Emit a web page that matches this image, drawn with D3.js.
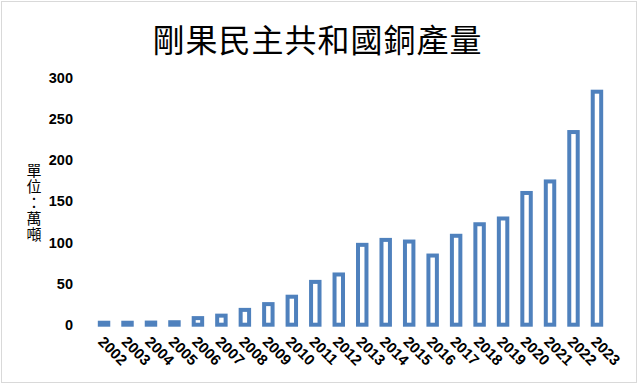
<!DOCTYPE html>
<html><head><meta charset="utf-8">
<script src="https://cdn.jsdelivr.net/npm/d3@7"></script>
<style>html,body{margin:0;padding:0;background:#fff;}svg{display:block;}</style>
</head><body>
<svg id="chart" width="640" height="386"></svg>
<script>
const title = "剛果民主共和國銅產量";
const yTitle = "單位：萬噸";
const years = ["2002","2003","2004","2005","2006","2007","2008","2009","2010","2011","2012","2013","2014","2015","2016","2017","2018","2019","2020","2021","2022","2023"];
const production = [2.4,2.4,2.6,3,8,11,18,25,34,52,61,97,103,101,84,108,122,129,160,174,234,283];
const yTicks = [0,50,100,150,200,250,300];

const svg = d3.select("#chart");
svg.append("rect").attr("x",1.5).attr("y",1.5).attr("width",635).attr("height",381)
  .attr("fill","#fff").attr("stroke","#d9d9d9").attr("stroke-width",1);

const x = d3.scaleBand().domain(years).range([92.3, 608.7]).padding(0);
const y = d3.scaleLinear().domain([0,300]).range([324.7, 77.7]);
const color = "#4f81bd";
const sw = 4;
const barW = x.bandwidth()*0.36;

svg.append("text").attr("x",317.5).attr("y",38).attr("text-anchor","middle")
  .attr("dominant-baseline","central")
  .attr("font-family","'Noto Sans CJK TC','Noto Sans CJK SC',sans-serif")
  .attr("font-size",32).attr("letter-spacing",1).attr("fill","#000").text(title);

// y tick labels
const yAxis = d3.axisLeft(y).tickValues(yTicks).tickSize(0).tickPadding(0);
const gy = svg.append("g").attr("transform","translate(73,0)").call(yAxis);
gy.select(".domain").remove();
gy.selectAll("text").attr("font-family","'Liberation Sans',Arial,sans-serif")
  .attr("font-size",14.5).attr("font-weight","bold").attr("fill","#000");

// y title, vertical
svg.append("text").attr("x",34).attr("y",163)
  .attr("writing-mode","tb")
  .attr("style","writing-mode: vertical-rl; text-orientation: upright;")
  .attr("font-family","'Noto Sans CJK TC',sans-serif").attr("font-size",15)
  .attr("letter-spacing",1)
  .attr("fill","#000").text(yTitle);

// bars
svg.append("g").selectAll("rect").data(years).join("rect")
  .attr("x",(d)=>x(d)+x.bandwidth()/2-barW/2)
  .attr("y",(d,i)=>y(production[i]))
  .attr("width",barW)
  .attr("height",(d,i)=>y(0)-y(production[i]))
  .attr("fill","#fff").attr("stroke",color).attr("stroke-width",sw);

// x labels
const xAxis = d3.axisBottom(x).tickSize(0).tickPadding(0);
const gx = svg.append("g").call(xAxis);
gx.select(".domain").remove();
gx.selectAll(".tick").attr("transform",d=>`translate(${x(d)+x.bandwidth()/2-3},339)`);
gx.selectAll("text").attr("y",0).attr("dy","0.35em")
  .attr("transform","rotate(45)").attr("text-anchor","start")
  .attr("font-family","'Liberation Sans',Arial,sans-serif")
  .attr("font-size",15).attr("font-weight","bold").attr("fill","#000");
</script>
</body></html>
